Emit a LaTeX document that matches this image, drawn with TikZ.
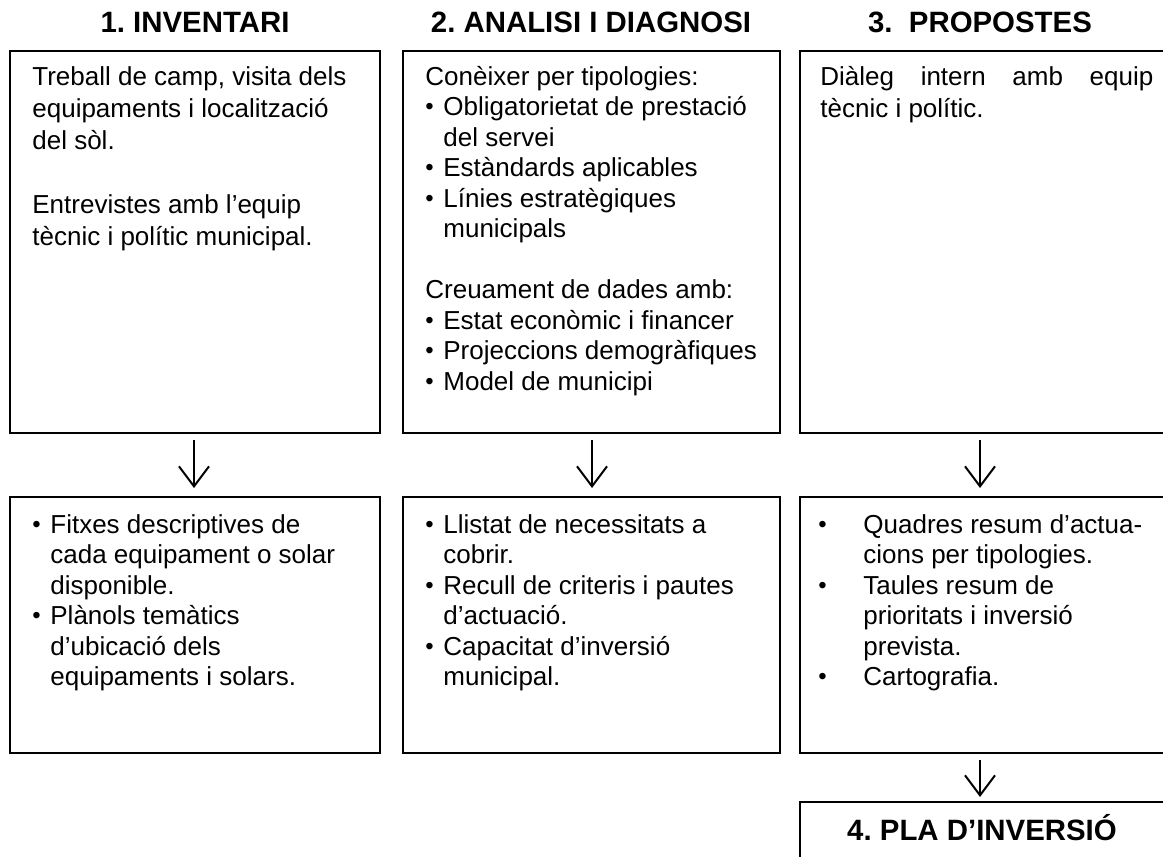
\documentclass[tikz,border=0pt]{standalone}
\usepackage{fontspec}
\setmainfont{Liberation Sans}
\usetikzlibrary{arrows.meta,calc}
\frenchspacing
\newcommand{\bodyfont}{\fontsize{13pt}{15.25pt}\selectfont}
\newcommand{\bodyfontwide}{\fontsize{13pt}{16pt}\selectfont}
\newcommand{\headfont}{\fontsize{14.7pt}{17pt}\selectfont\bfseries}
\newcommand{\bdot}{\raisebox{0.3pt}{\scalebox{0.92}{•}}}
\newcommand{\bl}{\makebox[9pt][l]{\bdot}}
\newcommand{\ind}{\hspace*{9pt}}
\newcommand{\blw}{\makebox[22.5pt][l]{\bdot}}
\newcommand{\indw}{\hspace*{22.5pt}}
\begin{document}
\begin{tikzpicture}[x=0.5pt,y=-0.5pt,
  box/.style={draw,line width=0.9pt,anchor=north west,inner sep=0,outer sep=0},
  head/.style={anchor=base,font=\headfont,inner sep=0},
  txt/.style={anchor=base west,inner sep=0,font=\bodyfont},
  arr/.style={line width=1pt,-{Straight Barb[length=10pt,width=15pt]}}]
\useasboundingbox (0,0) rectangle (1163,857);
\clip (0,0) rectangle (1163,857);
% titles
\node[head] (h1) at (195,32) {1. INVENTARI};
\node[head] (h2) at (591,32) {2. ANALISI I DIAGNOSI};
\node[head] (h3) at (980,32) {3.\ \ PROPOSTES};
% top boxes
\node[box,minimum width=185pt,minimum height=191pt] (b1) at (10,51) {};
\node[box,minimum width=188.5pt,minimum height=191pt] (b2) at (403,51) {};
\node[box,minimum width=190pt,minimum height=191pt] (b3) at (800,51) {};
% bottom boxes
\node[box,minimum width=185pt,minimum height=128pt] (b4) at (10,497) {};
\node[box,minimum width=188.5pt,minimum height=128pt] (b5) at (403,497) {};
\node[box,minimum width=190pt,minimum height=128pt] (b6) at (800,497) {};
\node[box,minimum width=190pt,minimum height=40pt] (b7) at (800,802) {};
% texts
\node[txt] (t1) at (32,85) {\parbox[t]{180pt}{\bodyfontwide\raggedright
Treball de camp, visita dels\\
equipaments i localització\\
del sòl.\\[16pt]
Entrevistes amb l’equip\\
tècnic i polític municipal.}};
\node[txt] (t2) at (425,85) {\parbox[t]{180pt}{\bodyfont\raggedright
Conèixer per tipologies:\\
\bl Obligatorietat de prestació\\
\ind del servei\\
\bl Estàndards aplicables\\
\bl Línies estratègiques\\
\ind municipals\\[15.25pt]
Creuament de dades amb:\\
\bl Estat econòmic i financer\\
\bl Projeccions demogràfiques\\
\bl Model de municipi}};
\node[txt] (t3) at (820,85) {\parbox[t]{166.5pt}{\bodyfontwide\raggedright
\makebox[\linewidth][s]{Diàleg intern amb equip}\\
tècnic i polític.}};
\node[txt] (t4) at (32,533) {\parbox[t]{180pt}{\bodyfont\raggedright
\bl Fitxes descriptives de\\
\ind cada equipament o solar\\
\ind disponible.\\
\bl Plànols temàtics\\
\ind d’ubicació dels\\
\ind equipaments i solars.}};
\node[txt] (t5) at (425,533) {\parbox[t]{180pt}{\bodyfont\raggedright
\bl Llistat de necessitats a\\
\ind cobrir.\\
\bl Recull de criteris i pautes\\
\ind d’actuació.\\
\bl Capacitat d’inversió\\
\ind municipal.}};
\node[txt] (t6) at (818,533) {\parbox[t]{180pt}{\bodyfont\raggedright
\blw Quadres resum d’actua-\\
\indw cions per tipologies.\\
\blw Taules resum de\\
\indw prioritats i inversió\\
\indw prevista.\\
\blw Cartografia.}};
\node[head] (t7) at (982,840) {4. PLA D’INVERSIÓ};
% arrows
\coordinate (a1) at (194,0);
\coordinate (a2) at (592,0);
\coordinate (a3) at (980,0);
\draw[arr] ($(b1.south -| a1)+(0,7)$) -- ($(b4.north -| a1)+(0,-9)$);
\draw[arr] ($(b2.south -| a2)+(0,7)$) -- ($(b5.north -| a2)+(0,-9)$);
\draw[arr] ($(b3.south -| a3)+(0,7)$) -- ($(b6.north -| a3)+(0,-9)$);
\draw[arr] ($(b6.south -| a3)+(0,7)$) -- ($(b7.north -| a3)+(0,-5)$);
\end{tikzpicture}
\end{document}
